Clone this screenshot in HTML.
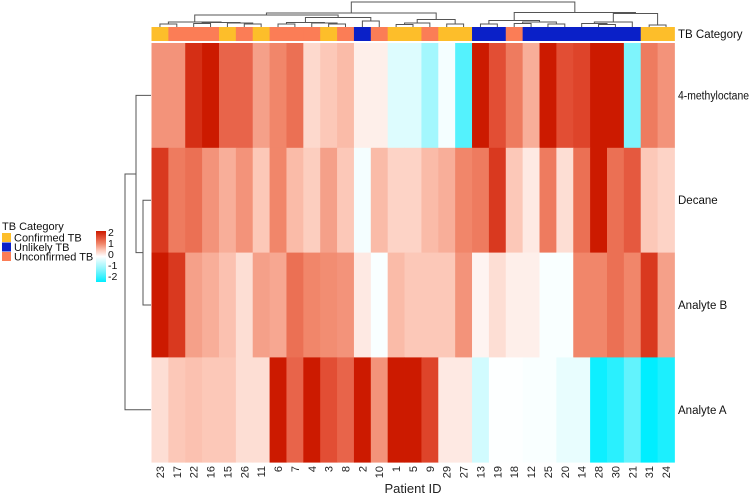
<!DOCTYPE html>
<html><head><meta charset="utf-8"><style>
html,body{margin:0;padding:0;background:#fff;}
svg{display:block;font-family:"Liberation Sans",Arial,sans-serif;}
</style></head><body>
<svg id="chart" width="751" height="497" viewBox="0 0 751 497"></svg>
<script>
const patients=["23","17","22","16","15","26","11","6","7","4","3","8","2","10","1","5","9","29","27","13","19","18","12","25","20","14","28","30","21","31","24"];
const categories=["C","U","U","U","C","U","C","U","U","U","C","U","L","U","C","C","U","C","C","L","L","U","L","L","L","L","L","L","L","C","C"];
const rowNames=["4-methyloctane","Decane","Analyte B","Analyte A"];
const row1=[0.9,0.9,1.8,2.0,1.3,1.3,0.8,1.0,1.2,0.35,0.5,0.6,0.15,0.15,-0.3,-0.3,-0.8,-0.1,-1.4,2.0,1.5,1.1,0.7,2.0,1.5,1.6,2.0,2.0,-1.1,1.1,0.9];
const row2=[1.7,1.1,1.2,0.9,0.7,0.9,0.5,1.0,0.6,0.45,0.8,0.5,-0.1,0.6,0.4,0.4,0.6,0.7,1.0,1.1,1.7,0.5,0.2,1.1,0.3,1.2,2.0,1.2,1.4,0.5,0.4];
const row3=[2.0,1.7,0.8,0.7,0.55,0.3,0.8,0.75,1.2,1.0,0.95,0.9,0.2,-0.05,0.6,0.5,0.5,0.5,0.9,0.1,0.3,0.15,0.15,-0.05,-0.05,1.0,1.0,1.2,1.0,1.7,0.8];
const row4=[0.3,0.5,0.55,0.5,0.5,0.3,0.3,2.0,1.3,2.0,1.5,1.3,2.0,0.9,2.0,2.0,1.6,0.2,0.2,-0.4,-0.02,-0.02,-0.05,-0.05,-0.2,-0.2,-1.9,-1.7,-1.3,-2.0,-1.8];
const scaleTicks=["2","1","0","-1","-2"];
</script>
<script>
const svg=document.getElementById('chart');
const NS='http://www.w3.org/2000/svg';
function mk(tag,attrs,parent){const e=document.createElementNS(NS,tag);for(const k in attrs)e.setAttribute(k,attrs[k]);(parent||svg).appendChild(e);return e;}
const X0=151.5,CW=16.87,Y0=43,RH=104.8;
const colX=i=>X0+CW*i;
const colC=i=>X0+CW*(i+0.5);
const rowY=r=>Y0+RH*r;
const catColor={C:"#FDBE2A",U:"#FB7D56",L:"#0A20C8"};
const stops=[[-2,[0,238,255]],[-1,[140,245,252]],[0,[255,255,255]],[0.5,[252,200,184]],[1,[241,134,106]],[1.5,[226,78,52]],[2,[204,26,0]]];
function color(v){
  v=Math.max(-2,Math.min(2,v));
  for(let k=0;k<stops.length-1;k++){
    const a=stops[k],b=stops[k+1];
    if(v<=b[0]){const t=(v-a[0])/(b[0]-a[0]);const c=[0,1,2].map(j=>Math.round(a[1][j]+(b[1][j]-a[1][j])*t));return `rgb(${c[0]},${c[1]},${c[2]})`;}
  }
  return 'rgb(204,26,0)';
}
categories.forEach((c,i)=>{
  const r=mk('rect',{x:colX(i),y:27,width:CW+0.4,height:14,fill:catColor[c]});
  
  
});
const rows=[row1,row2,row3,row4];
rows.forEach((arr,r)=>{
  arr.forEach((v,i)=>{
    const e=mk('rect',{x:colX(i),y:rowY(r),width:CW+0.4,height:RH+0.4,fill:color(v)});
    
    
  });
  const t=mk('text',{x:678,y:rowY(r)+RH/2+4,'font-size':11.5,fill:'#111'});
  if(rowNames[r].length>10){t.setAttribute('textLength','71');t.setAttribute('lengthAdjust','spacingAndGlyphs');}
  t.textContent=rowNames[r];
  
  
});
const tc=mk('text',{x:678,y:38,'font-size':11.5,fill:'#111'});tc.textContent="TB Category";


patients.forEach((p,i)=>{
  const cx=colC(i)+4;
  const t=mk('text',{x:cx,y:466,'font-size':11,fill:'#222','text-anchor':'end',transform:`rotate(-90 ${cx} 466)`});
  t.textContent=p;
  
  
});
const xt=mk('text',{x:413,y:493,'font-size':13,fill:'#222','text-anchor':'middle'});xt.textContent="Patient ID";


const g=mk('g',{stroke:'#555','stroke-width':1,fill:'none'});


function leaf(i){return {x:colC(i),y:27};}
function join(a,b,y){mk('path',{d:`M${a.x},${a.y}V${y}H${b.x}V${b.y}`},g);return {x:(a.x+b.x)/2,y:y};}
const L=leaf;
const n1=join(L(0),L(1),24),n2=join(L(2),L(3),23.5),n3=join(L(5),L(6),24),n4=join(L(4),n3,23),n5=join(n2,n4,22.5),A=join(n1,n5,22);
const b1=join(L(7),L(8),24),b2=join(L(10),L(11),24),b3=join(L(9),b2,23),B=join(b1,b3,22.5);
const C=join(L(12),L(13),21),BC=join(B,C,17.5),Y=join(A,BC,15);
const z1=join(L(14),L(15),24.5),z2=join(z1,L(16),23),z3=join(L(17),L(18),24),Z=join(z2,z3,19.5);
const X=join(Y,Z,13);
const r1=join(L(19),L(20),24),r2a=join(L(21),L(22),23.5),r2b=join(L(23),L(24),24),r2=join(r2a,r2b,22),R1=join(r1,r2,20.5);
const q1=join(L(26),L(27),24.5),q2=join(L(25),q1,23.5),q3=join(q2,L(28),22),q4=join(L(29),L(30),25),R2=join(q3,q4,13.5);
const R=join(R1,R2,12.5);
join(X,R,2);
const g2=mk('g',{stroke:'#555','stroke-width':1,fill:'none'});


function rl(r){return {x:151,y:rowY(r)+RH/2};}
function rj(a,b,x){mk('path',{d:`M${a.x},${a.y}H${x}V${b.y}H${b.x}`},g2);return {x:x,y:(a.y+b.y)/2};}
const d1=rj(rl(1),rl(2),143),d2=rj(rl(0),d1,136);rj(d2,rl(3),125);
const lt=mk('text',{x:2,y:230,'font-size':11,fill:'#111'});lt.textContent="TB Category";


[["C","Confirmed TB"],["L","Unlikely TB"],["U","Unconfirmed TB"]].forEach((d,k)=>{
  const y=233+9.5*k;
  const s=mk('rect',{x:2,y:y,width:9,height:9,fill:catColor[d[0]]});
  
  
  const t=mk('text',{x:14,y:y+8.5,'font-size':11,fill:'#111'});t.textContent=d[1];
  
  
});
const defs=mk('defs',{});
const lg=mk('linearGradient',{id:'cb',x1:0,y1:0,x2:0,y2:1},defs);
for(let k=0;k<=20;k++){const v=2-k*0.2;mk('stop',{offset:(k/20),'stop-color':color(v)},lg);}
const cb=mk('rect',{x:96,y:231,width:10,height:51,fill:'url(#cb)'});


scaleTicks.forEach((s,k)=>{
  const t=mk('text',{x:108,y:236+11*k,'font-size':10.5,fill:'#111'});t.textContent=s;
  
  
});
</script>
</body></html>
